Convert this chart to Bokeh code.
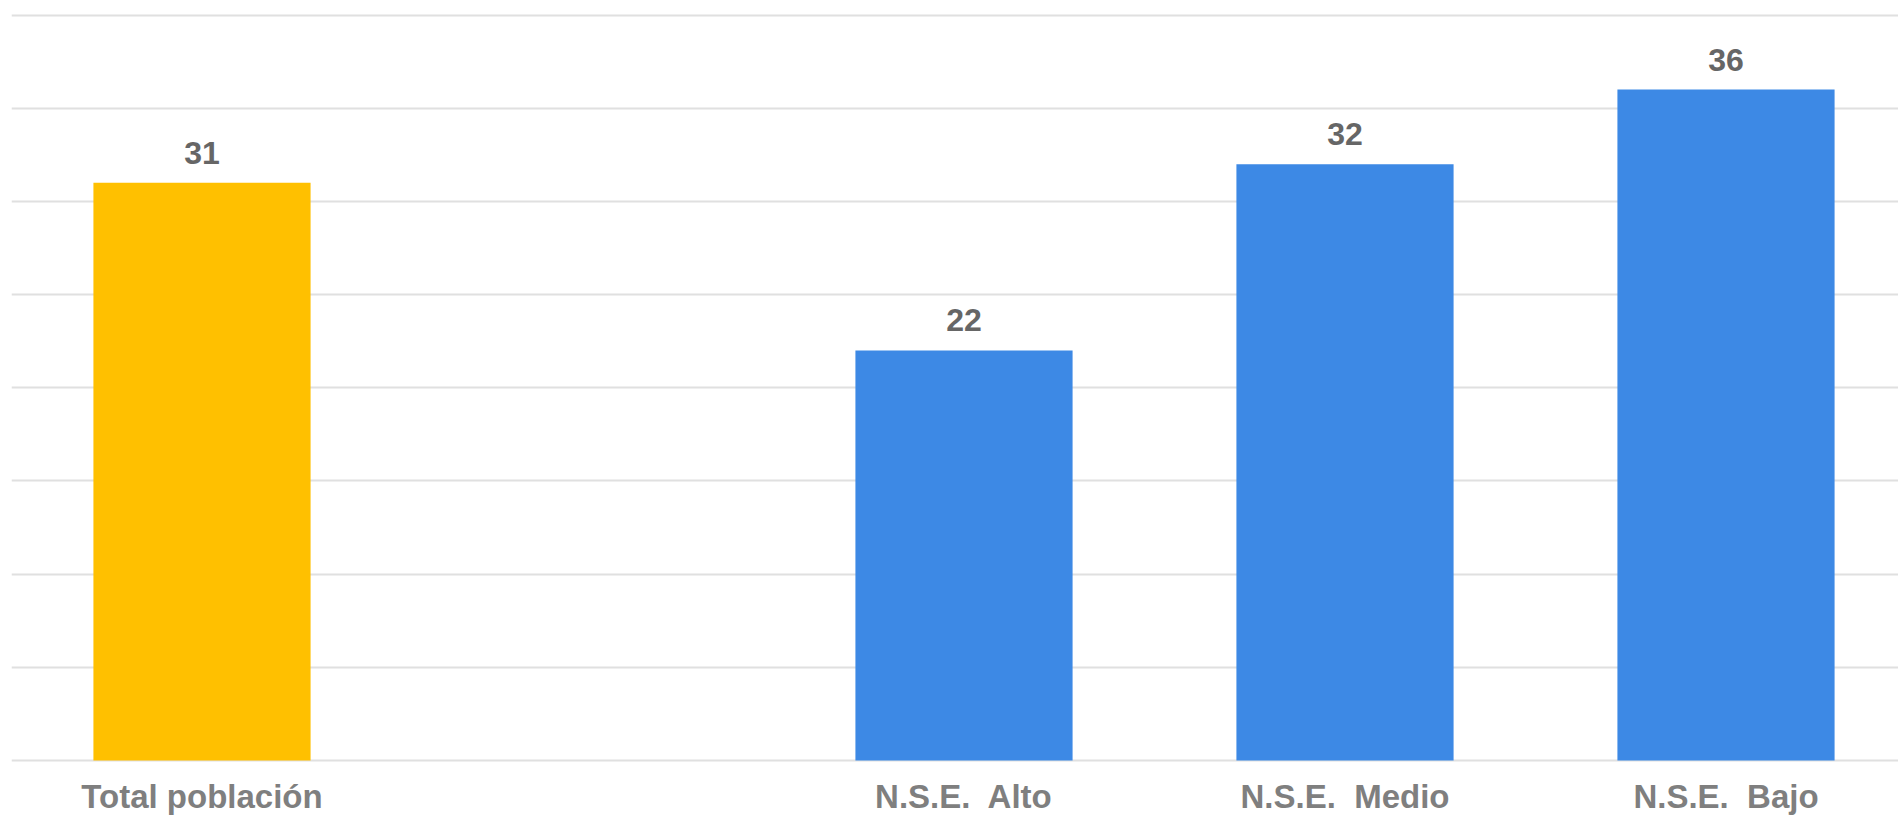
from bokeh.plotting import figure
from bokeh.models import ColumnDataSource, FixedTicker, Range1d
from bokeh.core.properties import value
from bokeh.embed import file_html
from bokeh.resources import INLINE

categories = ["Total población", "", "N.S.E.\u00a0 Alto", "N.S.E.\u00a0 Medio", "N.S.E.\u00a0 Bajo"]
values = [31, None, 22, 32, 36]
colors = ["#FFC000", "#FFFFFF", "#3D89E5", "#3D89E5", "#3D89E5"]
y_ticks = [0, 5, 10, 15, 20, 25, 30, 35, 40]

xs = [i for i, v in enumerate(values) if v is not None]
vals = [v for v in values if v is not None]
cols = [colors[i] for i in xs]
src = ColumnDataSource(dict(x=xs, top=vals, color=cols, label=[str(v) for v in vals]))

W, H = 1898, 817
p = figure(width=W, height=H, output_backend="svg", toolbar_location=None,
           x_range=Range1d(-0.5, -0.5 + 1887 / 381.0),
           y_range=Range1d(-0.107, 40.78),
           min_border_left=11, min_border_right=0, min_border_top=0, min_border_bottom=55)
p.outline_line_color = None
p.background_fill_color = "white"
p.border_fill_color = "white"

p.ygrid.ticker = FixedTicker(ticks=y_ticks)
p.ygrid.grid_line_color = "#E0E0E0"
p.ygrid.grid_line_width = 2
p.xgrid.visible = False

p.vbar(x="x", top="top", bottom=0, width=0.57, color="color", line_color=None, source=src)
p.text(x="x", y="top", text="label", source=src, y_offset=-30,
       text_align="center", text_baseline="alphabetic",
       text_font=value("Liberation Sans"), text_font_style="bold",
       text_font_size="32px", text_color="#666666")

p.yaxis.visible = False

ax = p.xaxis[0]
ax.ticker = FixedTicker(ticks=list(range(len(categories))))
ax.major_label_overrides = {i: c for i, c in enumerate(categories)}
ax.axis_line_color = None
ax.major_tick_line_color = None
ax.minor_tick_line_color = None
ax.major_tick_out = 0
ax.major_tick_in = 0
ax.major_label_standoff = 15
ax.major_label_text_font = "Liberation Sans"
ax.major_label_text_font_style = "bold"
ax.major_label_text_font_size = "33px"
ax.major_label_text_color = "#7F7F7F"

open("out.html", "w").write(file_html(p, INLINE))
